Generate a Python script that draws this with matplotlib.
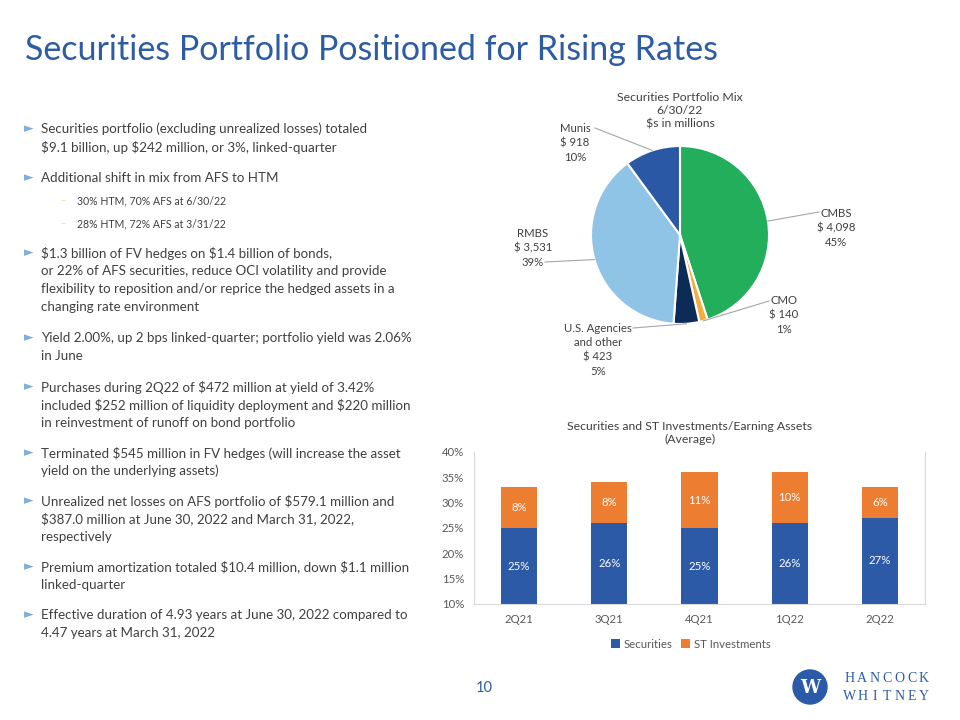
import numpy as np
import matplotlib.pyplot as plt
from matplotlib.patches import Circle

plt.rcParams['font.family'] = ['Lato', 'DejaVu Sans']

# ---- data ----
pie_names = ["CMBS", "CMO", "U.S. Agencies\nand other", "RMBS", "Munis"]
pie_values = [4098, 140, 423, 3531, 918]
pie_pcts = [45, 1, 5, 39, 10]
pie_colors = ["#22AE5A", "#F4AE3F", "#0C2B56", "#8FC4E6", "#2A58A5"]

quarters = ["2Q21", "3Q21", "4Q21", "1Q22", "2Q22"]
securities = [25, 26, 25, 26, 27]
st_invest = [8, 8, 11, 10, 6]

bullets = [
    (0, ["Securities portfolio (excluding unrealized losses) totaled",
         "$9.1 billion, up $242 million, or 3%, linked-quarter"]),
    (0, ["Additional shift in mix from AFS to HTM"]),
    (1, ["30% HTM, 70% AFS at 6/30/22"]),
    (1, ["28% HTM, 72% AFS at 3/31/22"]),
    (0, ["$1.3 billion of FV hedges on $1.4 billion of bonds,",
         "or 22% of AFS securities, reduce OCI volatility and provide",
         "flexibility to reposition and/or reprice the hedged assets in a",
         "changing rate environment"]),
    (0, ["Yield 2.00%, up 2 bps linked-quarter; portfolio yield was 2.06%",
         "in June"]),
    (0, ["Purchases during 2Q22 of $472 million at yield of 3.42%",
         "included $252 million of liquidity deployment and $220 million",
         "in reinvestment of runoff on bond portfolio"]),
    (0, ["Terminated $545 million in FV hedges (will increase the asset",
         "yield on the underlying assets)"]),
    (0, ["Unrealized net losses on AFS portfolio of $579.1 million and",
         "$387.0 million at June 30, 2022 and March 31, 2022,",
         "respectively"]),
    (0, ["Premium amortization totaled $10.4 million, down $1.1 million",
         "linked-quarter"]),
    (0, ["Effective duration of 4.93 years at June 30, 2022 compared to",
         "4.47 years at March 31, 2022"]),
]
bullet_y = [129, 178, 201, 224, 253, 338, 387, 453, 501, 567, 615]

blue = "#2D5CA3"
grey = "#404040"

fig = plt.figure(figsize=(9.6, 7.2), dpi=100)
bg = fig.add_axes([0, 0, 1, 1])
bg.set_xlim(0, 960)
bg.set_ylim(720, 0)
bg.axis("off")

# title
bg.text(25, 50, "Securities Portfolio Positioned for Rising Rates", fontsize=24.5,
        color=blue, va="center", ha="left")

# bullets
for (lvl, lines), y0 in zip(bullets, bullet_y):
    if lvl == 0:
        bg.text(24, y0, "\u25BA", fontsize=9, color="#7FB0DA", va="center",
                ha="left", family="DejaVu Sans")
        for i, ln in enumerate(lines):
            bg.text(41, y0 + i * 18, ln, fontsize=9.65, color=grey, va="center",
                    parse_math=False)
    else:
        bg.text(60, y0, "\u2013", fontsize=7, color="#EFDFA0", va="center")
        bg.text(77, y0, lines[0], fontsize=7.6, color=grey, va="center",
                parse_math=False)

# ---- pie ----
cx, cy, r = 680, 235, 89
axp = fig.add_axes([(cx - r) / 960, (720 - cy - r) / 720, 2 * r / 960, 2 * r / 720])
wedges, _ = axp.pie(pie_values, colors=pie_colors, startangle=90, counterclock=False,
                    wedgeprops=dict(edgecolor="white", linewidth=1.5))
axp.set_xlim(-1, 1)
axp.set_ylim(-1, 1)
axp.set_aspect("equal")

def to_pie(x, y):
    return (x - cx) / r, (cy - y) / r

label_xy = [(836, 228), (784, 315), (598, 350), (533, 248), (575, 143)]
line_end = [(819, 212), (769, 301), (633, 328), (545, 262), (595, 128)]
for w, name, val, pct, (lx, ly), (ex, ey) in zip(wedges, pie_names, pie_values,
                                                 pie_pcts, label_xy, line_end):
    th = np.deg2rad((w.theta1 + w.theta2) / 2)
    x0, y0 = np.cos(th), np.sin(th)
    x1, y1 = to_pie(ex, ey)
    axp.plot([x0, x1], [y0, y1], color="#A6A6A6", lw=0.8, clip_on=False)
    bg.text(lx, ly, f"{name}\n$ {val:,}\n{pct}%", ha="center", va="center",
            fontsize=8.2, color=grey, linespacing=1.35, parse_math=False)

bg.text(cx, 111, "Securities Portfolio Mix\n6/30/22\n$s in millions", ha="center",
        va="center", fontsize=8.8, color=grey, linespacing=1.25, parse_math=False)

# ---- stacked bars ----
axb = fig.add_axes([474 / 960, 116 / 720, 451 / 960, 152 / 720])
x = np.arange(len(quarters))
sec = np.array(securities)
st = np.array(st_invest)
axb.bar(x, sec, width=0.4, color="#2C5AA6", label="Securities")
axb.bar(x, st, bottom=sec, width=0.4, color="#ED7D31", label="ST Investments")
axb.set_ylim(10, 40)
axb.set_xlim(-0.5, len(quarters) - 0.5)
axb.set_yticks(np.arange(10, 41, 5))
axb.set_yticklabels([f"{v}%" for v in range(10, 41, 5)])
axb.set_xticks(x)
axb.set_xticklabels(quarters)
axb.tick_params(length=0, labelsize=8.2, colors="#595959", pad=7)
for s in ["left", "right", "bottom"]:
    axb.spines[s].set_color("#D9D9D9")
axb.spines["top"].set_visible(False)
for i in x:
    axb.text(i, (10 + sec[i]) / 2, f"{sec[i]}%", ha="center", va="center",
             color="white", fontsize=8.2)
    axb.text(i, sec[i] + st[i] / 2, f"{st[i]}%", ha="center", va="center",
             color="white", fontsize=8.2)
axb.legend(loc="upper center", bbox_to_anchor=(0.48, -0.16), ncol=2, frameon=False,
           fontsize=8.2, handlelength=0.8, handleheight=0.8, handletextpad=0.3,
           columnspacing=0.8, labelcolor="#595959")

bg.text(690, 433, "Securities and ST Investments/Earning Assets\n(Average)",
        ha="center", va="center", fontsize=8.8, color=grey, linespacing=1.25)

# page number
bg.text(484, 688, "10", ha="center", va="center", fontsize=10.5, color=blue)

# logo
bg.add_patch(Circle((810, 687), 17, color="#2B5BA8"))
bg.text(810, 688, "W", ha="center", va="center", fontsize=13, color="white",
        fontweight="bold", family="DejaVu Serif")
for row, (word, yy) in enumerate([("HANCOCK", 679), ("WHITNEY", 697)]):
    for k, ch in enumerate(word):
        bg.text(850 + k * 12.3, yy, ch, ha="center", va="center", fontsize=10,
                color="#2B5BA8", family="Liberation Serif")

fig.savefig("out.png", dpi=100)
